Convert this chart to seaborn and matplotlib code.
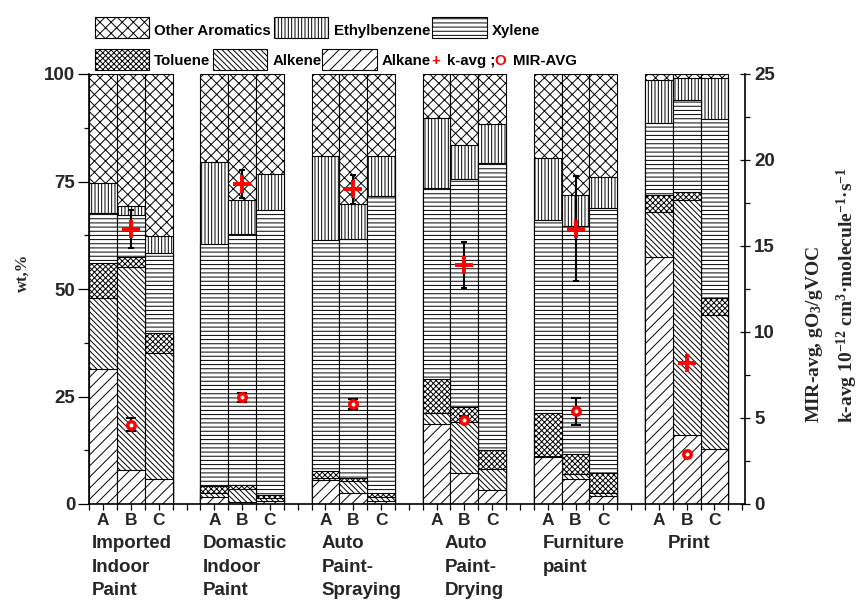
import numpy as np
import pandas as pd
import matplotlib
matplotlib.use("Agg")
import matplotlib.pyplot as plt
from matplotlib.patches import Rectangle
from matplotlib.ticker import FixedLocator, MultipleLocator
import seaborn as sns

# ---- data -------------------------------------------------------------
groups = ["Imported\nIndoor\nPaint", "Domastic\nIndoor\nPaint",
          "Auto\nPaint-\nSpraying", "Auto\nPaint-\nDrying",
          "Furniture\npaint", "Print"]
samples = ["A", "B", "C"]

# composition, wt.% (samples A, B, C of each source in turn)
alkane = [31.5, 7.9, 5.7, 1.7, 0.5, 0.7, 5.6, 2.5, 0.8,
          18.5, 7.2, 3.3, 10.9, 5.7, 1.9, 57.4, 16.0, 12.7]
alkene = [16.5, 47.3, 29.5, 0.8, 3.1, 0.8, 0.5, 2.8, 0.9,
          2.7, 11.9, 4.9, 0.3, 1.2, 0.6, 10.6, 54.7, 31.3]
toluene = [8.0, 2.3, 4.6, 1.7, 0.8, 0.7, 1.6, 0.8, 0.9,
           7.9, 3.5, 4.4, 9.9, 4.7, 4.8, 3.9, 1.9, 3.8]
xylene = [11.6, 9.7, 18.5, 56.3, 58.3, 66.2, 53.7, 55.5, 69.1,
          44.3, 53.0, 66.6, 44.9, 53.1, 61.5, 16.7, 21.3, 41.8]
ethylbenzene = [7.0, 2.2, 4.1, 19.1, 8.0, 8.3, 19.5, 8.2, 9.3,
                16.3, 8.0, 9.1, 14.5, 7.2, 7.3, 10.1, 5.1, 9.4]
other_aromatics = [25.4, 30.6, 37.6, 20.4, 29.3, 23.3, 19.1, 30.2, 19.0,
                   10.3, 16.4, 11.7, 19.5, 28.1, 23.9, 1.3, 1.0, 1.0]

# source averages (right axis)
k_avg = [16.0, 18.6, 18.3, 13.9, 16.0, 8.2]
k_err = [1.1, 0.8, 0.85, 1.35, 3.05, 0.0]
mir_avg = [4.6, 6.2, 5.8, 4.9, 5.4, 2.9]
mir_err = [0.38, 0.25, 0.3, 0.2, 0.78, 0.0]

# ---- style ------------------------------------------------------------
sns.set_theme(style="ticks")
plt.rcParams["font.family"] = ["Liberation Sans", "DejaVu Sans"]
plt.rcParams["font.weight"] = "bold"
plt.rcParams["hatch.linewidth"] = 0.7
plt.rcParams["mathtext.fontset"] = "custom"
plt.rcParams["mathtext.rm"] = "Liberation Serif:bold"
plt.rcParams["mathtext.it"] = "Liberation Serif:italic:bold"
plt.rcParams["mathtext.bf"] = "Liberation Serif:bold"
plt.rcParams["mathtext.default"] = "rm"

W, H = 858, 601
fig = plt.figure(figsize=(W / 100, H / 100), dpi=100)
fig.patch.set_facecolor("white")
ax = fig.add_axes([89.3 / W, 1 - 504 / H, (745 - 89.3) / W, 430 / H])
ax.set_facecolor("white")

n_groups, n_samp = len(groups), len(samples)
pos = [4 * g + j + 0.5 for g in range(n_groups) for j in range(n_samp)]

layers = [
    ("Alkane", alkane, "///"),
    ("Alkene", alkene, "\\" * 6),
    ("Toluene", toluene, "xxxxxx"),
    ("Xylene", xylene, "----"),
    ("Ethylbenzene", ethylbenzene, "|||||"),
    ("Other Aromatics", other_aromatics, "xxx"),
]
hatch_of = {name: h for name, _, h in layers}
cum = np.cumsum([vals for _, vals, _ in layers], axis=0)

# stacked bars: draw cumulative tops from the top layer down
for i in reversed(range(len(layers))):
    df = pd.DataFrame({"pos": pos, "wt": cum[i]})
    sns.barplot(data=df, x="pos", y="wt", native_scale=True, width=1.0,
                color="white", edgecolor="black", linewidth=0.8,
                hatch=layers[i][2], errorbar=None, ax=ax)

ax.set_xlim(0, 23.6)
ax.set_ylim(0, 100)
ax.set_xlabel("")
ax.set_ylabel("")

ax.xaxis.set_major_locator(FixedLocator(pos))
ax.set_xticklabels(samples * n_groups, fontsize=12.5, fontweight="bold")
half = [k * 0.5 for k in range(0, 48)]
ax.xaxis.set_minor_locator(FixedLocator([h for h in half if h not in pos]))
ax.tick_params(axis="x", which="both", direction="out", length=4.5,
               width=0.9, color="black", pad=2)
ax.set_yticks([0, 25, 50, 75, 100])
ax.yaxis.set_minor_locator(MultipleLocator(12.5))
ax.tick_params(axis="y", which="major", direction="out", length=8,
               width=0.9, labelsize=13.5, pad=2, color="black")
ax.tick_params(axis="y", which="minor", direction="out", length=3.5,
               width=0.9, color="black")
for lab in ax.get_yticklabels():
    lab.set_fontweight("bold")
for side in ["top", "right"]:
    ax.spines[side].set_visible(False)
for side in ["left", "bottom"]:
    ax.spines[side].set_color("black")
    ax.spines[side].set_linewidth(1.2)

# right axis: averaged reactivity
ax2 = ax.twinx()
ax2.set_ylim(0, 25)
ax2.set_yticks([0, 5, 10, 15, 20, 25])
ax2.yaxis.set_minor_locator(MultipleLocator(2.5))
ax2.tick_params(axis="y", which="major", direction="inout", length=7,
                width=0.9, labelsize=13.5, pad=3, color="black")
ax2.tick_params(axis="y", which="minor", direction="out", length=3.5,
                width=0.9, color="black")
for lab in ax2.get_yticklabels():
    lab.set_fontweight("bold")
for side in ["top", "left", "bottom"]:
    ax2.spines[side].set_visible(False)
ax2.spines["right"].set_color("black")
ax2.spines["right"].set_linewidth(1.2)
ax2.grid(False)
ax.grid(False)

xb = [4 * g + 1.5 for g in range(n_groups)]
xe = [x for x, e in zip(xb, k_err) if e > 0]
ax2.errorbar(xe, [v for v, e in zip(k_avg, k_err) if e > 0],
             yerr=[e for e in k_err if e > 0], fmt="none", ecolor="black",
             elinewidth=1.5, capsize=2.5, capthick=1.5)
xm = [x for x, e in zip(xb, mir_err) if e > 0]
ax2.errorbar(xm, [v for v, e in zip(mir_avg, mir_err) if e > 0],
             yerr=[e for e in mir_err if e > 0], fmt="none", ecolor="black",
             elinewidth=1.5, capsize=3.5, capthick=1.5)
ax2.plot(xb, k_avg, ls="none", marker="+", ms=13, mew=2.8, color="red")
ax2.plot(xb, mir_avg, ls="none", marker="o", ms=5.4, mew=2.5,
         mfc="white", mec="red")

# source names under the A/B/C labels
label_off = [0.09, 0.08, 0.36, 0.78, 0.32, 0.82]
for g, name in enumerate(groups):
    ax.text(4 * g + label_off[g], (504 - 535) / 430, name,
            transform=ax.get_xaxis_transform(), ha="left", va="top",
            fontsize=13.5, fontweight="bold", linespacing=1.5)

# axis titles
fig.text(23 / W, 1 - 273 / H, "wt,%", rotation=90, ha="center", va="center",
         fontsize=12, fontweight="bold", family="Liberation Serif")
fig.text(832 / W, 1 - 423 / H,
         "MIR-avg, gO$_3$/gVOC\n"
         "k-avg 10$^{-12}$ cm$^3$·molecule$^{-1}$·s$^{-1}$",
         rotation=90, ha="center", va="bottom", multialignment="left",
         fontsize=14, fontweight="bold", family="Liberation Serif",
         linespacing=1.5)

# legend
def legend_box(x0, x1, ytop, ybot, hatch):
    r = Rectangle((x0 / W, 1 - ybot / H), (x1 - x0) / W, (ybot - ytop) / H,
                  transform=fig.transFigure, facecolor="white",
                  edgecolor="black", linewidth=0.8, hatch=hatch)
    fig.add_artist(r)

def legend_text(x, y, s, color="black"):
    fig.text(x / W, 1 - y / H, s, ha="left", va="center", fontsize=10.8,
             fontweight="bold", color=color)

row1 = (17.3, 37.7, 31)
row2 = (49.3, 70.0, 61)
legend_box(95, 149, row1[0], row1[1], hatch_of["Other Aromatics"])
legend_text(154, row1[2], "Other Aromatics")
legend_box(274.3, 328.3, row1[0], row1[1], hatch_of["Ethylbenzene"])
legend_text(334, row1[2], "Ethylbenzene")
legend_box(432.3, 486.7, row1[0], row1[1], hatch_of["Xylene"])
legend_text(491.7, row1[2], "Xylene")
legend_box(95, 149, row2[0], row2[1], hatch_of["Toluene"])
legend_text(154, row2[2], "Toluene")
legend_box(213.3, 266.7, row2[0], row2[1], hatch_of["Alkene"])
legend_text(272.3, row2[2], "Alkene")
legend_box(322.3, 376.7, row2[0], row2[1], hatch_of["Alkane"])
legend_text(381.7, row2[2], "Alkane")
legend_text(431, row2[2], "+", color="red")
legend_text(447, row2[2], "k-avg ;")
legend_text(494, row2[2], "O", color="red")
legend_text(512.5, row2[2], "MIR-AVG")

fig.savefig("out.png", dpi=100, facecolor="white")
